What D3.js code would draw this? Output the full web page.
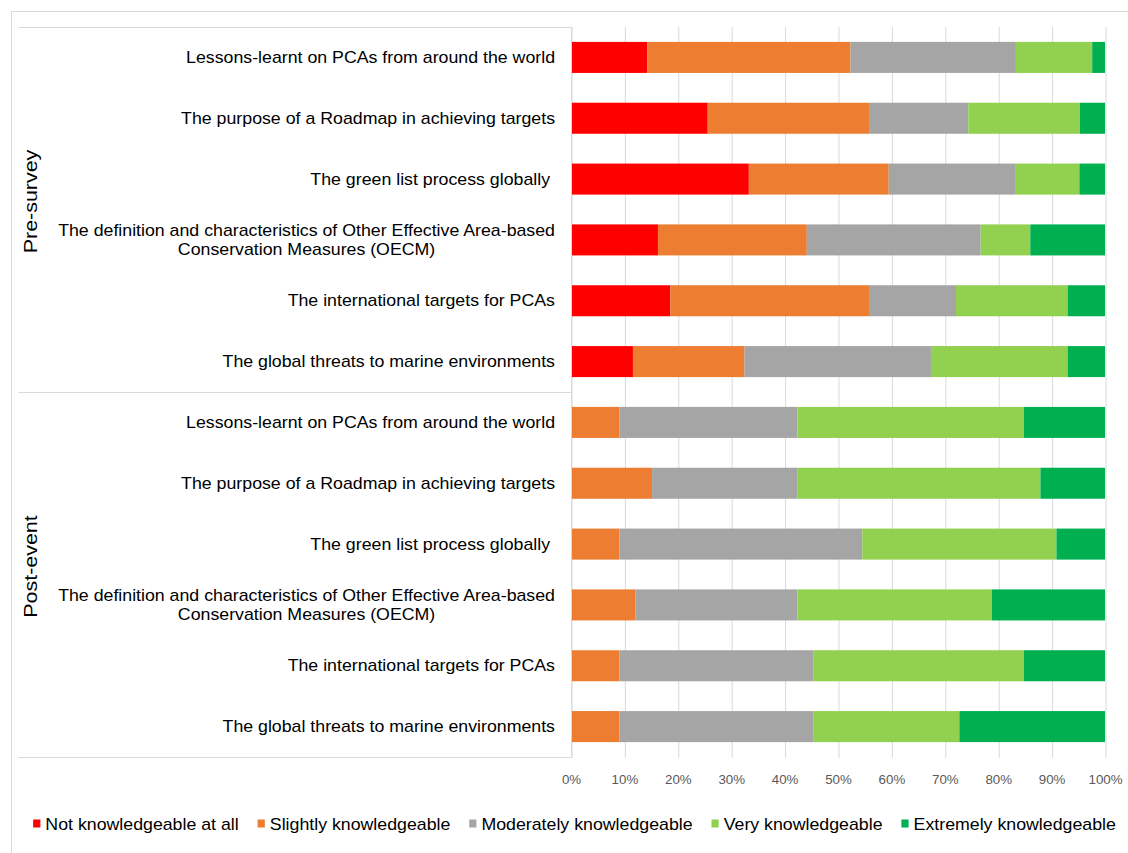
<!DOCTYPE html>
<html>
<head>
<meta charset="utf-8">
<script src="https://cdn.jsdelivr.net/npm/d3@7"></script>
<style>
  html, body { margin: 0; padding: 0; background: #fff; }
  svg { display: block; font-family: "Liberation Sans", Arial, sans-serif; }
  text { white-space: pre; }
</style>
</head>
<body>
<svg id="chart" width="1128" height="853"></svg>
<script>
// Survey groups and topics (each group repeats the same six topics)
const groups = ["Pre-survey", "Post-event"];
const topics = [
  "Lessons-learnt on PCAs from around the world",
  "The purpose of a Roadmap in achieving targets",
  "The green list process globally ",
  "The definition and characteristics of Other Effective Area-based\nConservation Measures (OECM)",
  "The international targets for PCAs",
  "The global threats to marine environments"
];

// Knowledge levels (legend order)
const levels = [
  "Not knowledgeable at all",
  "Slightly knowledgeable",
  "Moderately knowledgeable",
  "Very knowledgeable",
  "Extremely knowledgeable"
];

// Share of respondents (%) per row: six pre-survey rows then six post-event rows
const notAtAll   = [14.3, 25.6, 33.3, 16.3, 18.6, 11.6,  0.0,  0.0,  0.0,  0.0,  0.0,  0.0];
const slightly   = [38.1, 30.2, 26.2, 27.9, 37.2, 20.9,  9.1, 15.2,  9.1, 12.1,  9.1,  9.1];
const moderately = [31.0, 18.6, 23.8, 32.6, 16.3, 34.9, 33.3, 27.3, 45.5, 30.3, 36.4, 36.4];
const very       = [14.3, 20.9, 11.9,  9.3, 20.9, 25.6, 42.4, 45.5, 36.4, 36.4, 39.4, 27.3];
const extremely  = [ 2.4,  4.7,  4.8, 14.0,  7.0,  7.0, 15.2, 12.1,  9.1, 21.2, 15.2, 27.3];

const tickLabels = ["0%", "10%", "20%", "30%", "40%", "50%", "60%", "70%", "80%", "90%", "100%"];

const levelColors = ["#FF0000", "#ED7D31", "#A5A5A5", "#92D050", "#00B050"];

// ---- build rows ----
const seriesValues = [notAtAll, slightly, moderately, very, extremely];
const rows = [];
groups.forEach((g, gi) => {
  topics.forEach((t, ti) => {
    const i = gi * topics.length + ti;
    const row = { id: g + "|" + ti, group: g, topic: t };
    levels.forEach((lv, li) => { row[lv] = seriesValues[li][i]; });
    rows.push(row);
  });
});

const stacked = d3.stack().keys(levels).offset(d3.stackOffsetExpand)(rows);

// ---- layout ----
const svg = d3.select("#chart");
const plot = { left: 571, right: 1105, top: 27, bottom: 757 };
const labelLeft = 18.5;
const gridColor = "#D9D9D9";
const textStretch = 1.11;   // text is set slightly wide

const x = d3.scaleLinear().domain([0, 1]).range([plot.left, plot.right]);
const y = d3.scaleBand()
  .domain(rows.map(r => r.id))
  .range([plot.top, plot.bottom])
  .paddingInner(0.49)
  .paddingOuter(0.245);

const color = d3.scaleOrdinal().domain(levels).range(levelColors);

// chart area border
svg.append("rect")
  .attr("x", 11.5).attr("y", 11.5)
  .attr("width", 1200).attr("height", 1000)
  .attr("fill", "none").attr("stroke", gridColor).attr("stroke-width", 1);

// vertical gridlines + value axis labels
const xAxis = d3.axisBottom(x)
  .tickValues(d3.range(0, 11).map(i => i / 10))
  .tickFormat((d, i) => tickLabels[i])
  .tickSize(-(plot.bottom - plot.top) - 1)
  .tickPadding(17);

const gx = svg.append("g")
  .attr("transform", `translate(0,${plot.bottom + 1})`)
  .call(xAxis);
gx.select(".domain").remove();
gx.selectAll(".tick line")
  .attr("stroke", gridColor).attr("stroke-width", 1)
  .attr("transform", "translate(0.5,0)");
gx.selectAll(".tick text")
  .attr("fill", "#595959")
  .attr("transform", `scale(${textStretch},1)`)
  .style("font-size", "12px")
  .style("font-family", "'Liberation Sans', Arial, sans-serif");

// stacked bars
svg.append("g")
  .selectAll("g")
  .data(stacked)
  .join("g")
  .attr("fill", d => color(d.key))
  .selectAll("rect")
  .data(d => d)
  .join("rect")
  .attr("x", d => x(d[0]))
  .attr("y", d => y(d.data.id))
  .attr("width", d => Math.max(0, x(d[1]) - x(d[0])))
  .attr("height", y.bandwidth());

// category axis lines (multi-level)
const axisG = svg.append("g").attr("stroke", gridColor).attr("stroke-width", 1);
axisG.append("line")
  .attr("x1", plot.left + 0.5).attr("x2", plot.left + 0.5)
  .attr("y1", plot.top).attr("y2", plot.bottom);
const groupEdges = [plot.top, y(rows[topics.length].id) - y.step() * y.paddingInner() / 2, plot.bottom];
groupEdges.forEach(e => {
  axisG.append("line")
    .attr("x1", labelLeft).attr("x2", plot.left + 0.5)
    .attr("y1", Math.round(e) + 0.5).attr("y2", Math.round(e) + 0.5);
});

// topic labels, right-aligned as a block, multi-line labels centred within it
const labelRight = 555;
const labelG = svg.append("g")
  .style("font-size", "16px")
  .attr("fill", "#000");
rows.forEach(r => {
  const lines = r.topic.split("\n");
  const cy = y(r.id) + y.bandwidth() / 2;
  const lh = 19;
  const t = labelG.append("text")
    .attr("transform", `translate(${labelRight},0) scale(${textStretch},1)`);
  const spans = lines.map((ln, i) => t.append("tspan")
    .attr("y", cy + (i - (lines.length - 1) / 2) * lh)
    .attr("dy", "0.35em")
    .text(ln));
  const widths = spans.map(s => s.node().getComputedTextLength());
  const w = d3.max(widths);
  spans.forEach((s, i) => s.attr("x", -w + (w - widths[i]) / 2));
});

// group labels (rotated)
groups.forEach((g, gi) => {
  const cy = (groupEdges[gi] + groupEdges[gi + 1]) / 2 - 8;
  svg.append("text")
    .attr("transform", `translate(31,${cy}) rotate(-90) scale(1.34,${textStretch})`)
    .attr("text-anchor", "middle")
    .attr("dy", "0.35em")
    .style("font-size", "16px")
    .attr("fill", "#000")
    .text(g);
});

// legend
const legend = svg.append("g")
  .style("font-size", "16px")
  .attr("transform", `translate(574.5,824) scale(${textStretch},1)`);
const items = levels.map(lv => {
  const g = legend.append("g");
  g.append("rect").attr("width", 6.5).attr("height", 8).attr("y", -4.5).attr("fill", color(lv));
  const t = g.append("text").attr("x", 11).attr("dy", "0.35em").attr("fill", "#000").text(lv);
  return { g, w: 11 + t.node().getComputedTextLength() };
});
const gap = 17;
const total = d3.sum(items, d => d.w) + gap * (items.length - 1);
let lx = -total / 2;
items.forEach(it => {
  it.g.attr("transform", `translate(${lx},0)`);
  lx += it.w + gap;
});
</script>
</body>
</html>
